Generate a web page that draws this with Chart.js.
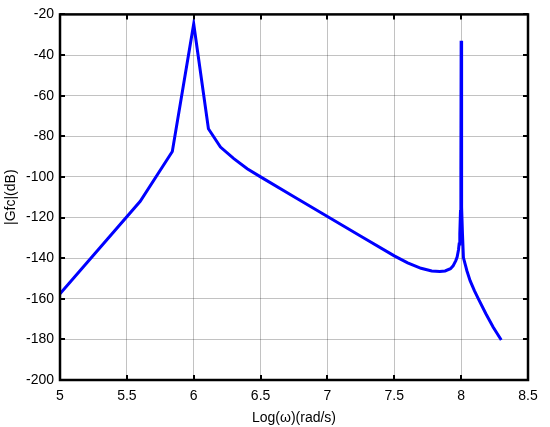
<!DOCTYPE html>
<html>
<head>
<meta charset="utf-8">
<script src="https://cdn.jsdelivr.net/npm/chart.js@4/dist/chart.umd.min.js"></script>
<style>
  html,body{margin:0;padding:0;background:#fff;}
  #wrap{width:550px;height:427px;}
</style>
</head>
<body>
<div id="wrap"><canvas id="c" width="550" height="427"></canvas></div>
<script>
// log(w) samples and |Gfc| in dB
const logW = [5.0, 5.6, 5.84, 6.0, 6.11, 6.2, 6.3, 6.4, 6.5, 6.75, 7.0, 7.25, 7.5, 7.6, 7.7, 7.78, 7.84, 7.88, 7.92, 7.94, 7.96, 7.97, 7.98, 7.985, 7.99, 7.995, 7.998, 8.0, 8.002, 8.005, 8.01, 8.017, 8.03, 8.043, 8.067, 8.099, 8.129, 8.185, 8.24, 8.3];
const gainDb = [-157.5, -112, -87.5, -24.7, -76.3, -85.3, -91, -96, -100, -109.8, -119.5, -129.2, -138.9, -142.3, -145, -146.3, -146.6, -146.3, -145.2, -143.8, -141.2, -139.5, -136, -133, -128, -117, -95, -33, -95, -115, -128, -139.7, -143, -146.2, -151.1, -156, -160.1, -167.4, -174, -180.3];
const xTicks = [5, 5.5, 6, 6.5, 7, 7.5, 8, 8.5];
const yTicks = [-200, -180, -160, -140, -120, -100, -80, -60, -40, -20];

const pts = logW.map((x,i)=>({x, y: gainDb[i]}));
const font = {family:'"Liberation Sans", Arial, sans-serif', size:14};

// matlab-ish box: inward tick marks on all four sides
const boxTicks = {
  id:'boxTicks',
  afterDraw(chart){
    const {ctx, chartArea:a, scales:{x,y}} = chart;
    ctx.save();
    ctx.strokeStyle='#000'; ctx.lineWidth=2;
    ctx.beginPath();
    for(const v of xTicks){
      const px = Math.round(x.getPixelForValue(v));
      ctx.moveTo(px,a.bottom); ctx.lineTo(px,a.bottom-5);
      ctx.moveTo(px,a.top); ctx.lineTo(px,a.top+5);
    }
    for(const v of yTicks){
      const py = Math.round(y.getPixelForValue(v));
      ctx.moveTo(a.left,py); ctx.lineTo(a.left+5,py);
      ctx.moveTo(a.right,py); ctx.lineTo(a.right-5,py);
    }
    ctx.stroke();
    ctx.lineWidth=2.5;
    ctx.strokeRect(a.left,a.top,a.right-a.left,a.bottom-a.top);
    ctx.restore();
  }
};

new Chart(document.getElementById('c'), {
  type:'scatter',
  data:{ datasets:[{ data:pts, showLine:true, borderColor:'#0000ff', borderWidth:3, pointRadius:0, tension:0, fill:false }]},
  options:{
    responsive:false, animation:false,
    layout:{ padding:{ left:0, right:22, top:12, bottom:0 } },
    plugins:{ legend:{display:false}, tooltip:{enabled:false} },
    scales:{
      x:{
        type:'linear', min:5, max:8.5,
        afterBuildTicks: s=>{ s.ticks = xTicks.map(v=>({value:v})); },
        afterFit: s=>{ s.height = 47; },
        grid:{ color:'rgba(0,0,0,0.24)', lineWidth:1, tickLength:0, drawTicks:false },
        border:{ display:false },
        ticks:{ color:'#000', font, padding:8, maxRotation:0, callback:v=>String(v) },
        title:{ display:true, text:'Log(ω)(rad/s)', color:'#000', font, padding:{top:0,bottom:0} }
      },
      y:{
        min:-200, max:-20,
        afterBuildTicks: s=>{ s.ticks = yTicks.map(v=>({value:v})); },
        afterFit: s=>{ s.width = 60; },
        grid:{ color:'rgba(0,0,0,0.24)', lineWidth:1, tickLength:0, drawTicks:false },
        border:{ display:false },
        ticks:{ color:'#000', font, padding:6, callback:v=>String(v) },
        title:{ display:true, text:'|Gfc|(dB)', color:'#000', font, padding:{top:3,bottom:2} }
      }
    }
  },
  plugins:[boxTicks]
});
</script>
</body>
</html>
